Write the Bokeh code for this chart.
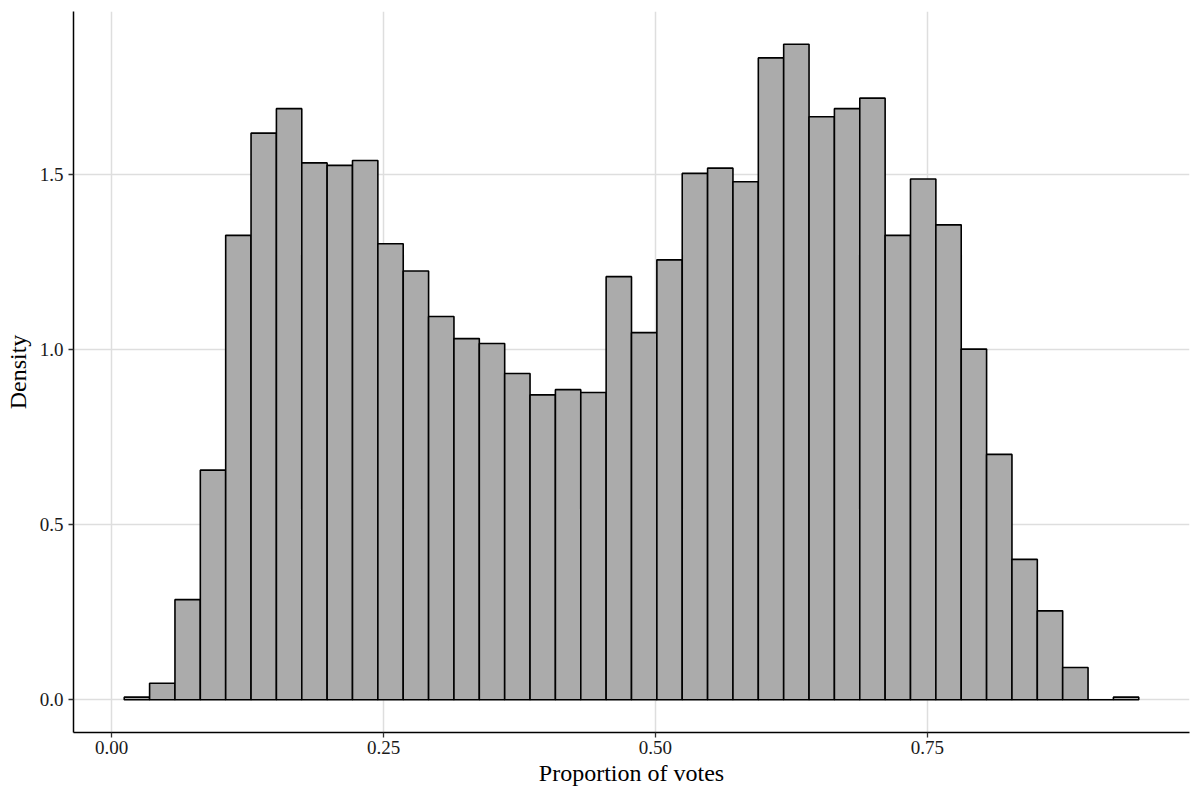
from bokeh.plotting import figure
from bokeh.models import Range1d, FixedTicker, NumeralTickFormatter, ColumnDataSource
from bokeh.embed import file_html
from bokeh.resources import INLINE

# ---- data ----
bin_start = 0.0116
bin_width = 0.02332
density = [0.0074, 0.047, 0.286, 0.656, 1.327, 1.619, 1.689, 1.534, 1.527, 1.541,
           1.303, 1.225, 1.095, 1.032, 1.018, 0.932, 0.871, 0.886, 0.878, 1.209,
           1.049, 1.257, 1.504, 1.519, 1.480, 1.834, 1.873, 1.666, 1.689, 1.719,
           1.327, 1.488, 1.357, 1.002, 0.701, 0.401, 0.254, 0.092, 0.0, 0.0074]
x_ticks = [0.0, 0.25, 0.50, 0.75]
y_ticks = [0.0, 0.5, 1.0, 1.5]
x_title = "Proportion of votes"
y_title = "Density"

lefts = [bin_start + i * bin_width for i in range(len(density))]
rights = [l + bin_width for l in lefts]
src = ColumnDataSource(dict(left=lefts, right=rights, top=density, bottom=[0.0] * len(density)))

xmin, xmax = lefts[0], rights[-1]
xpad = 0.05 * (xmax - xmin)
ymax = max(density)
ypad = 0.05 * ymax

FONT = "Liberation Serif"

p = figure(width=1192, height=792, output_backend="svg", toolbar_location=None,
           x_range=Range1d(xmin - xpad, xmax + xpad),
           y_range=Range1d(-ypad, ymax + ypad),
           min_border_left=73, min_border_right=3, min_border_top=11, min_border_bottom=60)
p.outline_line_color = None
p.background_fill_color = "white"
p.border_fill_color = "white"

p.quad(left="left", right="right", top="top", bottom="bottom", source=src,
       fill_color="#ababab", line_color="black", line_width=1.6)

for ax in (p.xaxis[0], p.yaxis[0]):
    ax.axis_line_color = "black"
    ax.axis_line_width = 1.5
    ax.major_tick_line_color = "#333333"
    ax.major_tick_line_width = 1.3
    ax.major_tick_out = 5
    ax.major_tick_in = 0
    ax.minor_tick_line_color = None
    ax.major_label_text_font = FONT
    ax.major_label_text_font_size = "19px"
    ax.major_label_text_color = "#1a1a1a"
    ax.axis_label_text_font = FONT
    ax.axis_label_text_font_size = "24px"
    ax.axis_label_text_font_style = "normal"
    ax.axis_label_text_color = "black"

p.xaxis.ticker = FixedTicker(ticks=x_ticks)
p.yaxis.ticker = FixedTicker(ticks=y_ticks)
p.xaxis.formatter = NumeralTickFormatter(format="0.00")
p.yaxis.formatter = NumeralTickFormatter(format="0.0")
p.xaxis.axis_label = x_title
p.yaxis.axis_label = y_title
p.xaxis.major_label_standoff = 3
p.yaxis.major_label_standoff = 5
p.xaxis.axis_label_standoff = 3
p.yaxis.axis_label_standoff = 6

p.xgrid.grid_line_color = "#dedede"
p.ygrid.grid_line_color = "#dedede"
p.xgrid.grid_line_width = 1.5
p.ygrid.grid_line_width = 1.5
p.xgrid.minor_grid_line_color = None
p.ygrid.minor_grid_line_color = None

open("out.html", "w").write(file_html(p, INLINE))
